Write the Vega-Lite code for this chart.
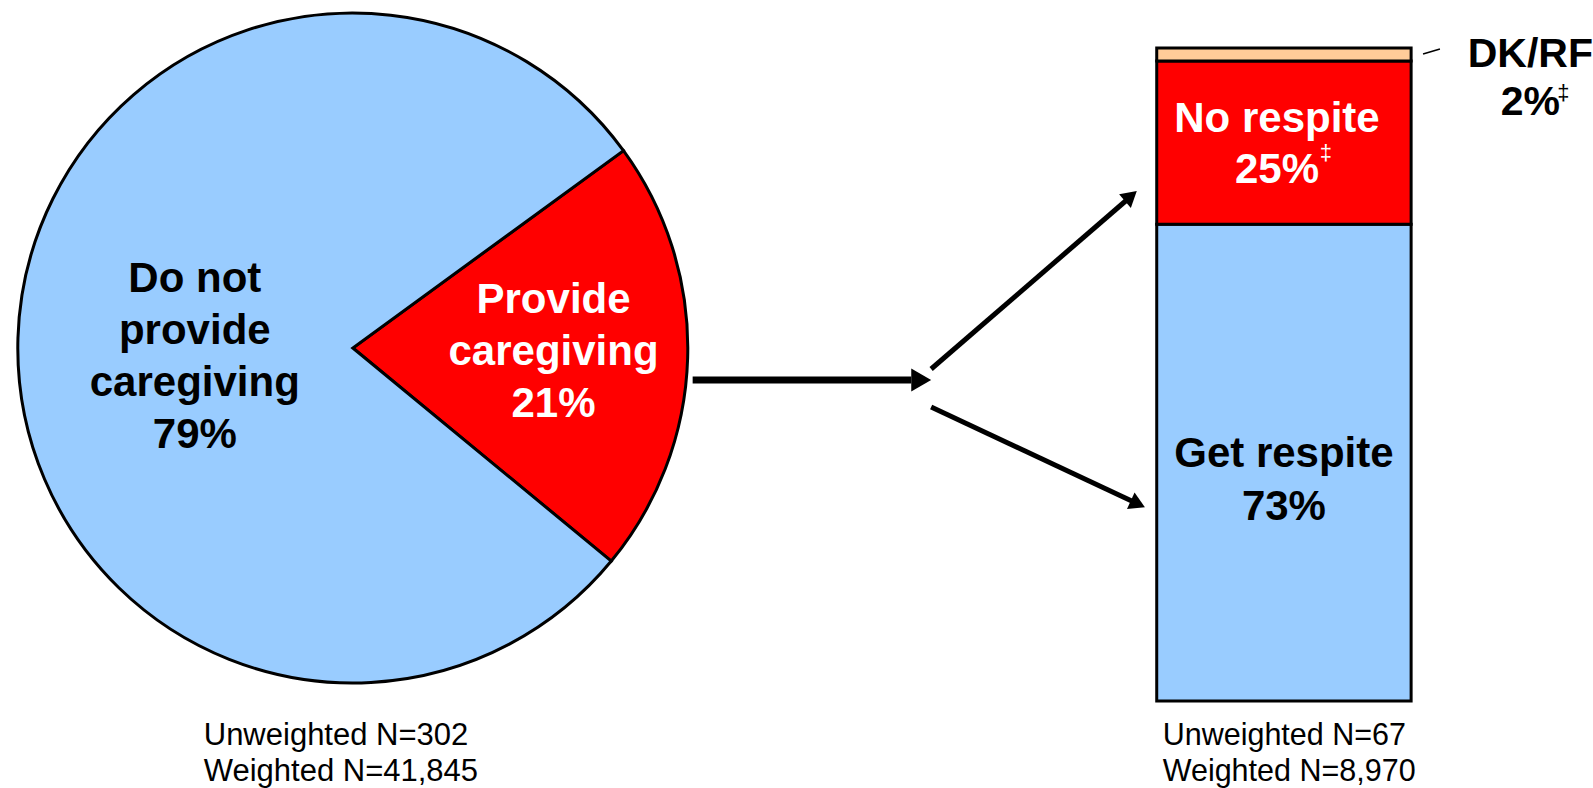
{
  "$schema": "https://vega.github.io/schema/vega-lite/v6.json",
  "width": 1593,
  "height": 788,
  "autosize": {"type": "fit", "contains": "padding"},
  "padding": 0,
  "background": "white",
  "config": {"view": {"stroke": null}, "axis": {"disable": true}, "legend": {"disable": true}},
  "datasets": {
    "pie": [
      {"cat": "Provide caregiving", "pct": 21, "rank": 1, "label": "Provide\ncaregiving\n21%"},
      {"cat": "Do not provide caregiving", "pct": 79, "rank": 2, "label": "Do not\nprovide\ncaregiving\n79%"}
    ],
    "bar": [
      {"cat": "Get respite", "pct": 73, "rank": 1, "label": "Get respite\n73%"},
      {"cat": "No respite", "pct": 25, "rank": 2, "label": "No respite\n25%"},
      {"cat": "DK/RF", "pct": 2, "rank": 3, "label": "DK/RF\n2%"}
    ],
    "notes": [
      {"chart": "pie", "label": "Unweighted N=302\nWeighted N=41,845"},
      {"chart": "bar", "label": "Unweighted N=67\nWeighted N=8,970"}
    ]
  },
  "resolve": {"scale": {"y": "independent", "color": "independent"}},
  "layer": [
    {
      "layer": [
        {
          "data": {"name": "bar"},
          "mark": {"type": "bar", "orient": "vertical", "stroke": "black", "strokeWidth": 3},
          "encoding": {
            "x": {"datum": 1159, "type": "quantitative", "scale": {"domain": [0, 1593], "nice": false, "zero": false}, "axis": null},
            "x2": {"datum": 1415},
            "y": {"field": "pct", "type": "quantitative", "stack": "zero", "scale": {"domain": [0, 100], "range": [701, 48], "nice": false}, "axis": null},
            "color": {"field": "cat", "type": "nominal", "scale": {"domain": ["Get respite", "No respite", "DK/RF"], "range": ["#99CCFF", "#FF0000", "#FFCC99"]}, "legend": null},
            "order": {"field": "rank"}
          }
        }
      ]
    },
    {
      "layer": [
        {
          "data": {"name": "pie"},
          "mark": {"type": "arc", "radius": 335, "stroke": "black", "strokeWidth": 3},
          "encoding": {
            "x": {"datum": 350, "type": "quantitative", "scale": {"domain": [0, 1593], "nice": false, "zero": false}, "axis": null},
            "y": {"datum": 348, "type": "quantitative", "scale": {"domain": [0, 788], "nice": false, "zero": false, "reverse": true}, "axis": null},
            "theta": {"field": "pct", "type": "quantitative", "stack": true, "scale": {"range": [0.9407, 7.2239]}},
            "color": {"field": "cat", "type": "nominal", "scale": {"domain": ["Provide caregiving", "Do not provide caregiving"], "range": ["#FF0000", "#99CCFF"]}, "legend": null},
            "order": {"field": "rank"}
          }
        },
        {
          "data": {"name": "pie"},
          "transform": [{"filter": "datum.rank == 1"}],
          "mark": {"type": "text", "font": "Liberation Sans", "fontWeight": "bold", "fontSize": 42, "lineBreak": "\n", "lineHeight": 52, "align": "center", "baseline": "alphabetic", "color": "white"},
          "encoding": {
            "x": {"datum": 552, "type": "quantitative"},
            "y": {"datum": 313, "type": "quantitative"},
            "text": {"field": "label"}
          }
        },
        {
          "data": {"name": "pie"},
          "transform": [{"filter": "datum.rank == 2"}],
          "mark": {"type": "text", "font": "Liberation Sans", "fontWeight": "bold", "fontSize": 42, "lineBreak": "\n", "lineHeight": 52, "align": "center", "baseline": "alphabetic", "color": "black"},
          "encoding": {
            "x": {"datum": 191, "type": "quantitative"},
            "y": {"datum": 292, "type": "quantitative"},
            "text": {"field": "label"}
          }
        },
        {
          "data": {"name": "bar"},
          "transform": [{"filter": "datum.rank == 1"}],
          "mark": {"type": "text", "font": "Liberation Sans", "fontWeight": "bold", "fontSize": 42, "lineBreak": "\n", "lineHeight": 53, "align": "center", "baseline": "alphabetic", "color": "black"},
          "encoding": {
            "x": {"datum": 1287, "type": "quantitative"},
            "y": {"datum": 467, "type": "quantitative"},
            "text": {"field": "label"}
          }
        },
        {
          "data": {"name": "bar"},
          "transform": [{"filter": "datum.rank == 2"}],
          "mark": {"type": "text", "font": "Liberation Sans", "fontWeight": "bold", "fontSize": 42, "lineBreak": "\n", "lineHeight": 51, "align": "center", "baseline": "alphabetic", "color": "white"},
          "encoding": {
            "x": {"datum": 1280, "type": "quantitative"},
            "y": {"datum": 132, "type": "quantitative"},
            "text": {"field": "label"}
          }
        },
        {
          "data": {"name": "bar"},
          "transform": [{"filter": "datum.rank == 3"}],
          "mark": {"type": "text", "font": "Liberation Sans", "fontWeight": "bold", "fontSize": 41, "lineBreak": "\n", "lineHeight": 48, "align": "center", "baseline": "alphabetic", "color": "black"},
          "encoding": {
            "x": {"datum": 1535, "type": "quantitative"},
            "y": {"datum": 67, "type": "quantitative"},
            "text": {"field": "label"}
          }
        },
        {
          "data": {"values": [{}]},
          "mark": {"type": "text", "font": "Liberation Sans", "fontSize": 22, "align": "left", "baseline": "alphabetic", "color": "white"},
          "encoding": {
            "x": {"datum": 1323, "type": "quantitative"},
            "y": {"datum": 160, "type": "quantitative"},
            "text": {"datum": "‡"}
          }
        },
        {
          "data": {"values": [{}]},
          "mark": {"type": "text", "font": "Liberation Sans", "fontSize": 22, "align": "left", "baseline": "alphabetic", "color": "black"},
          "encoding": {
            "x": {"datum": 1562, "type": "quantitative"},
            "y": {"datum": 100, "type": "quantitative"},
            "text": {"datum": "‡"}
          }
        },
        {
          "data": {"name": "notes"},
          "transform": [{"filter": "datum.chart == 'pie'"}],
          "mark": {"type": "text", "font": "Liberation Sans", "fontSize": 31, "lineBreak": "\n", "lineHeight": 36, "align": "left", "baseline": "alphabetic", "color": "black"},
          "encoding": {
            "x": {"datum": 200, "type": "quantitative"},
            "y": {"datum": 745, "type": "quantitative"},
            "text": {"field": "label"}
          }
        },
        {
          "data": {"name": "notes"},
          "transform": [{"filter": "datum.chart == 'bar'"}],
          "mark": {"type": "text", "font": "Liberation Sans", "fontSize": 30.5, "lineBreak": "\n", "lineHeight": 36, "align": "left", "baseline": "alphabetic", "color": "black"},
          "encoding": {
            "x": {"datum": 1165, "type": "quantitative"},
            "y": {"datum": 745, "type": "quantitative"},
            "text": {"field": "label"}
          }
        },
        {
          "data": {"values": [{}]},
          "mark": {"type": "rule", "color": "black", "strokeWidth": 7, "strokeCap": "butt"},
          "encoding": {
            "x": {"datum": 692, "type": "quantitative"}, "x2": {"datum": 912},
            "y": {"datum": 380, "type": "quantitative"}, "y2": {"datum": 380}
          }
        },
        {
          "data": {"values": [{}]},
          "mark": {"type": "point", "shape": "triangle-right", "filled": true, "color": "black", "opacity": 1, "size": 529, "strokeWidth": 0},
          "encoding": {
            "x": {"datum": 922, "type": "quantitative"},
            "y": {"datum": 380, "type": "quantitative"}
          }
        },
        {
          "data": {"values": [{}]},
          "mark": {"type": "rule", "color": "black", "strokeWidth": 5, "strokeCap": "butt"},
          "encoding": {
            "x": {"datum": 932, "type": "quantitative"}, "x2": {"datum": 1130},
            "y": {"datum": 369, "type": "quantitative"}, "y2": {"datum": 199}
          }
        },
        {
          "data": {"values": [{}]},
          "mark": {"type": "point", "shape": "triangle-right", "filled": true, "color": "black", "opacity": 1, "size": 324, "strokeWidth": 0, "angle": 319.3},
          "encoding": {
            "x": {"datum": 1133, "type": "quantitative"},
            "y": {"datum": 196, "type": "quantitative"}
          }
        },
        {
          "data": {"values": [{}]},
          "mark": {"type": "rule", "color": "black", "strokeWidth": 5, "strokeCap": "butt"},
          "encoding": {
            "x": {"datum": 932, "type": "quantitative"}, "x2": {"datum": 1136},
            "y": {"datum": 407, "type": "quantitative"}, "y2": {"datum": 502}
          }
        },
        {
          "data": {"values": [{}]},
          "mark": {"type": "point", "shape": "triangle-right", "filled": true, "color": "black", "opacity": 1, "size": 324, "strokeWidth": 0, "angle": 24.9},
          "encoding": {
            "x": {"datum": 1140, "type": "quantitative"},
            "y": {"datum": 504, "type": "quantitative"}
          }
        },
        {
          "data": {"values": [{}]},
          "mark": {"type": "rule", "color": "black", "strokeWidth": 1.5},
          "encoding": {
            "x": {"datum": 1427, "type": "quantitative"}, "x2": {"datum": 1444},
            "y": {"datum": 54, "type": "quantitative"}, "y2": {"datum": 49}
          }
        }
      ]
    }
  ]
}
